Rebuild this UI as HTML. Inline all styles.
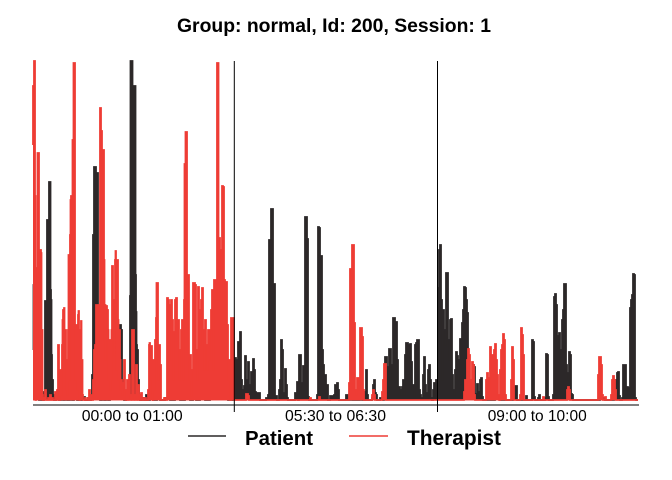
<!DOCTYPE html>
<html><head><meta charset="utf-8"><style>
html,body{margin:0;padding:0;background:#fff;width:672px;height:480px;overflow:hidden}
svg{display:block}
text{font-family:"Liberation Sans",Arial,sans-serif;fill:#000}
</style></head><body>
<svg width="672" height="480" viewBox="0 0 672 480" xmlns="http://www.w3.org/2000/svg">
<rect width="672" height="480" fill="#fff"/>
<text x="177" y="32" font-size="19" font-weight="bold" textLength="314" lengthAdjust="spacingAndGlyphs">Group: normal, Id: 200, Session: 1</text>

<g id="series" fill="none" stroke-linejoin="miter" stroke-linecap="butt" stroke-width="1.8">
<polyline class="step" stroke="#2c2829" points="33,350 33.5,285 34,285 34.5,340 35,395 36,398 37,325 37.5,380 38,398 39,400 40,396 41,400 42,398 43,400 44,392 45,301 45.5,380 46,330 47,220 47.5,220 48,300 49,182 50,182 50.5,290 51,300 51.5,355 52,380 53,395 54,400 56,398 58,395 59,400 61,398 63,400 65,396 67,400 70,398 72,400 74,385 75,375 76,395 77,400 79,398 80,400 82,397 85,400 88,398 90,400 91,395 92,375 93,235 93.5,300 94,167 95.5,167 96,320 96.5,173 97.5,173 98,310 98.5,380 99,395 100,400 102,398 104,400 106,398 108,400 110,396 112,390 113,370 114,380 115,365 116,390 117,375 118,395 119,360 120,325 121,330 122,380 123,392 124,400 126,398 128,395 129,380 130,296 130.5,61 132,61 132.5,86 135,86 135.5,275 136,312 136.5,345 137,350 138,380 139,395 140,400 142,398 144,400 146,395 147,400 150,398 153,400 157,398 160,400 165,398 170,400 175,398 180,400 185,398 190,400 193,395 195,388 196,400 200,398 205,400 210,398 215,396 216,390 217,370 218,380 219,336 220,378 221,385 222,372 223,390 224,380 225,395 226,398 228,400 230,396 232,400 233,395 234,358 235,358 236,377 237,360 238,342 239,372 240,332 241,380 242,397 243,390 244,386 245,356 246,380 247,385 248,362 249,390 250,385 251,372 252,385 253,359 254,370 255,392 256,393 258,393 260,400 264,400 266,398 268,395 269,240 270,240 271,209 272,209 273,284 274,284 275,398 276,396 277,400 279,390 280,380 281,340 282,350 283,393 284,395 285,369 286,385 287,398 288,400 294,400 295,393 296,393 297,382 298,400 299,355 300,355 301,383 302,395 303,366 304,386 305,217 306,217 307,239 308,397 309,400 316,400 317,395 318,227 319,228 320,256 321,256 322,350 323,365 324,380 325,375 326,393 327,385 328,400 330,396 332,396 334,395 335,385 336,395 337,383 338,390 339,400 344,400 346,395 348,400 350,398 352,400 360,398 362,400 364,392 365,400 366,370 367,395 368,400 372,398 373,385 374,380 375,393 376,395 377,400 380,398 383,400 384,388 385,357 386,357 387,367 388,380 389,349 390,349 391,365 392,380 393,318 394,318 395,322 396,322 397,360 398,387 399,387 400,390 401,395 402,387 403,380 404,395 405,355 406,343 407,343 408,363 409,345 410,344 411,362 412,390 413,385 414,396 415,345 416,343 417,340 418,340 419,390 420,395 421,398 423,375 424,357 425,385 426,393 427,398 428,370 429,365 430,380 431,398 432,400 433,390 434,383 435,395 436,380 437,395 438,288 439,250 440,245 441,300 442,380 443,310 444,330 445,345 446,273 447,273 448,340 449,360 450,320 451,319 452,375 453,390 454,395 455,370 456,352 457,356 458,380 459,360 460,339 461,340 462,323 463,310 464,287 465,288 466,300 467,313 468,370 469,390 470,395 471,398 472,380 473,365 474,367 475,397 476,394 477,384 478,392 479,398 480,380 481,378 482,397 483,400 490,400 495,398 500,400 512,400 513,387 514,386 515,387 516,386 517,400 525,400 526,396 527,400 531,400 532,340 533,342 534,397 535,400 538,398 539,395 540,400 545,398 546,354 547,355 548,397 549,400 552,400 553,395 554,297 555,294 556,305 557,342 558,336 559,333 560,350 561,360 562,320 563,310 564,284 565,284 566,365 567,373 568,380 569,352 570,355 571,394 572,395 573,400 590,400 600,398 605,400 614,395 615,392 616,380 617,373 618,372 619,396 620,400 622,398 623,365 624,366 625,365 626,388 627,387 628,390 629,388 630,308 631,300 632,295 633,274 634,275 635,398 636,400 638,400"/>
<polyline class="step" stroke="#ee3c35" points="33,145 33,86 34,61 34.5,61 35,196 35.5,400 36,268 37,300 37.5,153 38.5,153 39,390 39.5,250 40.5,250 41,253 41.5,390 42,330 42.5,395 43,400 44,398 45,390 46,400 48,398 49,400 50,395 51,400 52,398 53,400 54,400 55,392 56,400 57,390 58,345 58.5,345 59,400 60,370 60.5,380 61,395 62,345 62.5,320 63,310 64,308 64.5,360 65,330 66,390 67,360 67.5,395 68,330 68.5,255 69,380 70,235 70.5,200 71,196 71.5,300 72,196 72.5,140 73,140 73.5,63 74.5,63 75,380 76,325 76.5,370 77,330 77.5,390 78,315 78.5,311 79,360 79.5,400 80,330 81,321 81.5,375 82,360 82.5,395 83,400 85,398 86,400 88,398 89,390 90,400 91,395 92,400 93,380 94,350 95,345 96,305 96.5,380 97,330 98,305 98.5,345 99,330 100,108 100.5,108 101,250 101.5,131 102,150 102.5,250 103,160 103.5,150 104,260 104.5,340 105,305 105.5,360 106,306 107,310 108,330 108.5,380 109,340 110,390 110.5,375 111,380 111.5,330 112,266 112.5,266 113,300 114,355 114.5,300 115,260 115.5,251 116,300 116.5,370 117,260 118,320 118.5,380 119,330 120,360 120.5,390 121,380 122,395 123,383 124,360 125,390 126,400 127,380 128,400 129,375 130,395 131,400 132,330 133,330 134,400 135,395 136,365 137,400 138,385 139,395 140,400 141,393 142,400 143,398 144,400 145,398 146,400 147,400 148,390 149,345 149.5,343 150,380 151,346 152,380 152.5,400 153,360 154,390 155,340 156,318 156.5,283 157.5,283 158,380 159,345 160,365 161,400 162,400 164,398 166,400 167,298 168,300 169,360 170,305 171,300 172,320 173,380 174,332 175,300 176,298 177,325 178,320 179,380 180,350 181,330 182,320 183,380 184,300 184.5,164 185,290 185.5,132 186.5,132 187,275 188,275 189,380 190,355 191,396 192,370 193,283 194,283 195,285 196,350 197,380 198,287 199,310 200,345 201,300 202,288 203,330 204,370 205,320 206,345 207,370 208,330 209,360 210,330 211,310 212,290 213,370 214,280 215,300 216,280 217,63 218,63 218.5,300 219,238 220,250 221,300 222,186 223,187 224,280 225,300 226,282 227,325 228,380 229,360 230,400 231,318 232,318 233,318 234,400 245,400 246,394 248,396 249,400 309,400 310,398 311,400 318,400 319,397 320,400 348,400 349,383 350,269 351,269 352,245 353,245 354,323 354.5,323 355,390 356,395 357,378 358,378 359,390 360,328 361,328 362,337 363,390 364,400 371,400 372,395 373,390 374,395 375,400 381,400 382,392 383,380 384,364 385,364 386,400 463,400 464,392 465,380 466,392 467,360 468,349 469,355 470,390 471,380 472,362 473,365 474,395 475,400 485,400 486,380 487,373 488,378 489,390 490,347 491,355 492,365 493,355 494,350 495,344 496,360 497,375 498,395 499,400 500,370 501,350 502,345 503,334 504,340 505,395 506,400 510,400 511,380 512,347 513,360 514,400 519,400 520,395 521,328 522,335 523,355 524,400 542,400 543,397 544,400 566,400 567,390 568,387 569,390 570,400 597,400 598,375 599,357 600,357 601,365 602,395 603,400 605,397 606,400 610,400 611,395 612,380 613,376 614,380 615,390 616,400 638,400"/>
</g>

<g stroke="#000" stroke-width="1" fill="none">
<line x1="33" y1="405" x2="639" y2="405"/>
<line x1="234.3" y1="61" x2="234.3" y2="412"/>
<line x1="437.5" y1="61" x2="437.5" y2="412"/>
</g>

<text x="81.7" y="421" font-size="15.8" textLength="101" lengthAdjust="spacingAndGlyphs">00:00 to 01:00</text>
<text x="285" y="421" font-size="15.8" textLength="101" lengthAdjust="spacingAndGlyphs">05:30 to 06:30</text>
<text x="487.7" y="421" font-size="15.8" textLength="99" lengthAdjust="spacingAndGlyphs">09:00 to 10:00</text>

<line x1="188" y1="436" x2="226" y2="436" stroke="#2c2829" stroke-width="1.6"/>
<text x="245" y="445" font-size="20.4" font-weight="bold" textLength="68" lengthAdjust="spacingAndGlyphs">Patient</text>
<line x1="349" y1="436" x2="388" y2="436" stroke="#ee3c35" stroke-width="1.6"/>
<text x="407" y="445" font-size="20.8" font-weight="bold" textLength="94" lengthAdjust="spacingAndGlyphs">Therapist</text>
</svg>
<script>
(function(){
  var NS='http://www.w3.org/2000/svg';
  var pls=document.querySelectorAll('polyline.step');
  for(var k=0;k<pls.length;k++){
    var pl=pls[k];
    var raw=pl.getAttribute('points').trim().split(/\s+/);
    var pts=[];
    for(var i=0;i<raw.length;i++){var p=raw[i].split(',');pts.push([parseFloat(p[0]),parseFloat(p[1])]);}
    var out=[pts[0][0]+','+pts[0][1]];
    for(var j=1;j<pts.length;j++){
      out.push(pts[j][0]+','+pts[j-1][1]);
      out.push(pts[j][0]+','+pts[j][1]);
    }
    var s=out.join(' ');
    pl.setAttribute('points',s);
    var poly=document.createElementNS(NS,'polygon');
    poly.setAttribute('points',pts[0][0]+',400.5 '+s+' '+pts[pts.length-1][0]+',400.5');
    poly.setAttribute('fill',pl.getAttribute('stroke'));
    poly.setAttribute('stroke','none');
    pl.parentNode.insertBefore(poly,pl);
  }
})();
</script>
</body></html>
